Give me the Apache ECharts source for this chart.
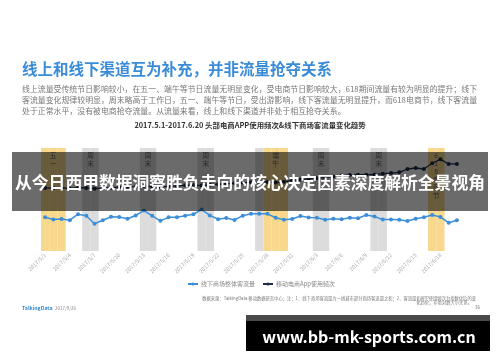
<!DOCTYPE html>
<html><head><meta charset="utf-8">
<script src="https://cdn.jsdelivr.net/npm/echarts@6/dist/echarts.min.js"></script>
<style>html,body{margin:0;padding:0;background:#fff}#c{width:500px;height:362px}</style>
</head><body><div id="c"></div>
<script>
const dates = ['2017/5/1','2017/5/2','2017/5/3','2017/5/4','2017/5/5','2017/5/6','2017/5/7','2017/5/8','2017/5/9','2017/5/10',
'2017/5/11','2017/5/12','2017/5/13','2017/5/14','2017/5/15','2017/5/16','2017/5/17','2017/5/18','2017/5/19','2017/5/20',
'2017/5/21','2017/5/22','2017/5/23','2017/5/24','2017/5/25','2017/5/26','2017/5/27','2017/5/28','2017/5/29','2017/5/30',
'2017/5/31','2017/6/1','2017/6/2','2017/6/3','2017/6/4','2017/6/5','2017/6/6','2017/6/7','2017/6/8','2017/6/9',
'2017/6/10','2017/6/11','2017/6/12','2017/6/13','2017/6/14','2017/6/15','2017/6/16','2017/6/17','2017/6/18','2017/6/19','2017/6/20'];

// 线下商场整体客流量 (index)
const offlineTraffic = [32.7,30.5,31.1,29.9,35.7,34.3,26.4,29.9,33.3,33.0,
31.3,34.5,39.3,34.2,29.3,32.7,32.7,34.3,35.6,40.3,
34.5,30.9,32.0,30.1,34.3,36.1,36.1,36.1,32.3,30.4,
31.1,34.0,32.5,32.2,30.3,31.3,30.9,32.3,31.8,35.0,
33.4,30.6,30.6,30.4,29.1,31.4,32.8,35.0,33.0,27.5,29.8];

// 移动电商App使用频次 (index)
const appFrequency = [61.2,61.0,61.3,60.8,61.5,61.2,60.5,61.0,61.5,62.0,
62.3,62.5,63.0,62.6,62.0,62.8,63.3,63.8,64.0,63.5,
64.2,64.8,65.3,65.8,66.2,66.8,67.3,67.0,66.5,67.2,
68.5,69.3,70.0,70.6,71.4,72.3,73.2,73.8,74.1,74.1,
74.1,75.1,75.7,76.4,79.6,80.6,79.6,85.2,89.0,84.5,84.5];

// shaded periods: [start, end, label]
const holidayBands = [['2017/5/1','2017/5/3','五一'],['2017/5/28','2017/5/30','端午'],['2017/6/17','2017/6/18','618电商节']];
const weekendBands = [['2017/5/6','2017/5/7','周末'],['2017/5/13','2017/5/14','周末'],['2017/5/20','2017/5/21','周末'],
['2017/5/27','2017/5/27',''],['2017/6/3','2017/6/4','周末'],['2017/6/10','2017/6/11','周末']];

const seriesNames = ['线下商场整体客流量','移动电商App使用频次'];

const GRID = {left:41, top:148, width:420, height:103};
const catW = GRID.width / dates.length;
const FONT = '"Noto Sans CJK SC","Noto Sans",sans-serif';

function bandData(bands){
  const arr = dates.map(()=>'-');
  bands.forEach(b=>{
    const s = dates.indexOf(b[0]), e = dates.indexOf(b[1]);
    for(let i=s;i<=e;i++) arr[i] = 1;
    if(b[2]){
      arr[s] = {value:1, label:{show:true, formatter:b[2].split('').join('\n'),
        offset:[(e-s)/2*catW, 0]}};
    }
  });
  return arr;
}

const chart = echarts.init(document.getElementById('c'), null, {renderer:'canvas'});
chart.setOption({
  animation:false,
  backgroundColor:'#fff',
  grid:GRID,
  legend:{left:187, top:281, padding:0, itemWidth:10, itemHeight:4, itemGap:7,
    textStyle:{fontSize:6, color:'#888', fontFamily:FONT, padding:[0,0,0,-2]},
    data:seriesNames},
  xAxis:{type:'category', data:dates, boundaryGap:true,
    axisLine:{show:false}, axisTick:{show:false}, splitLine:{show:false},
    axisLabel:{interval:2, rotate:45, fontSize:5.5, color:'#aaa', margin:3, fontFamily:FONT}},
  yAxis:[{type:'value', min:0, max:100, show:false},
         {type:'value', min:0, max:1, show:false}],
  series:[
    {type:'bar', yAxisIndex:1, data:bandData(holidayBands), barCategoryGap:'0%', barGap:'-100%',
      itemStyle:{color:'#f8d88c'}, silent:true,
      label:{show:false, position:'insideTop', distance:3, fontSize:7, lineHeight:8, color:'#666', fontFamily:FONT}},
    {type:'bar', yAxisIndex:1, data:bandData(weekendBands), barCategoryGap:'0%', barGap:'-100%',
      itemStyle:{color:'#dcdcdc'}, silent:true,
      label:{show:false, position:'insideTop', distance:3, fontSize:7, lineHeight:8, color:'#666', fontFamily:FONT}},
    {name:seriesNames[0], type:'line', data:offlineTraffic, symbol:'circle', symbolSize:4,
      lineStyle:{color:'#3c8ed9', width:1.5}, itemStyle:{color:'#3c8ed9'}},
    {name:seriesNames[1], type:'line', data:appFrequency, symbol:'circle', symbolSize:4,
      lineStyle:{color:'#1e2c4c', width:1.3}, itemStyle:{color:'#1e2c4c'}}
  ],
  graphic:[
    {type:'text', left:22, top:61, style:{text:'线上和线下渠道互为补充，并非流量抢夺关系', font:'bold 15.5px '+FONT, fill:'#3b8cd8'}},
    {type:'text', left:22, top:85, style:{text:'线上流量受传统节日影响较小，在五一、端午等节日流量无明显变化，受电商节日影响较大，618期间流量有较为明显的提升；线下', font:'7.9px '+FONT, fill:'#777'}},
    {type:'text', left:22, top:96, style:{text:'客流量变化规律较明显，周末略高于工作日，五一、端午等节日，受出游影响，线下客流量无明显提升，而618电商节，线下客流量', font:'7.9px '+FONT, fill:'#777'}},
    {type:'text', left:22, top:107, style:{text:'处于正常水平，没有被电商抢夺流量。从流量来看，线上和线下渠道并非处于相互抢夺关系。', font:'7.9px '+FONT, fill:'#777'}},
    {type:'text', x:250, y:125, style:{text:'2017.5.1-2017.6.20 头部电商APP使用频次&线下商场客流量变化趋势', font:'bold 7.4px '+FONT, fill:'#333', textAlign:'center', textVerticalAlign:'middle'}},
    {type:'text', x:476, y:298, style:{text:'数据来源：TalkingData 移动数据研究中心；注：1、线下商场客流量为一线城市部分商场客流量之和；2、客流量和APP使用频次为指数化后的变', font:'4.3px '+FONT, fill:'#777', textAlign:'right', textVerticalAlign:'middle'}},
    {type:'text', x:472, y:302, style:{text:'化趋势，非绝对数大小关系。', font:'4.3px '+FONT, fill:'#777', textAlign:'right', textVerticalAlign:'middle'}},
    {type:'text', x:480, y:307, style:{text:'36', font:'4.5px '+FONT, fill:'#777', textAlign:'right', textVerticalAlign:'middle'}},
    {type:'text', x:22, y:308, style:{text:'TalkingData', font:'bold 5.2px '+FONT, fill:'#3a8ad6', textVerticalAlign:'middle'}},
    {type:'text', x:55, y:308, style:{text:'2017/9/26', font:'4.5px '+FONT, fill:'#888', textVerticalAlign:'middle'}},
    {type:'rect', z:100, shape:{x:12, y:152, width:476, height:59}, style:{fill:'rgba(0,0,0,0.58)'}},
    {type:'text', z:101, x:250, y:183, style:{text:'从今日西甲数据洞察胜负走向的核心决定因素深度解析全景视角', font:'bold 16.8px '+FONT, fill:'#fff', textAlign:'center', textVerticalAlign:'middle'}},
    {type:'rect', z:100, shape:{x:246, y:315, width:244, height:6}, style:{fill:'#4a4a4a'}},
    {type:'rect', z:100, shape:{x:246, y:321, width:244, height:30}, style:{fill:'#000'}},
    {type:'text', z:101, x:369, y:337, style:{text:'www.bb-mk-sports.com.cn', font:'bold 16px '+FONT, fill:'#fff', textAlign:'center', textVerticalAlign:'middle'}}
  ]
});
</script></body></html>
